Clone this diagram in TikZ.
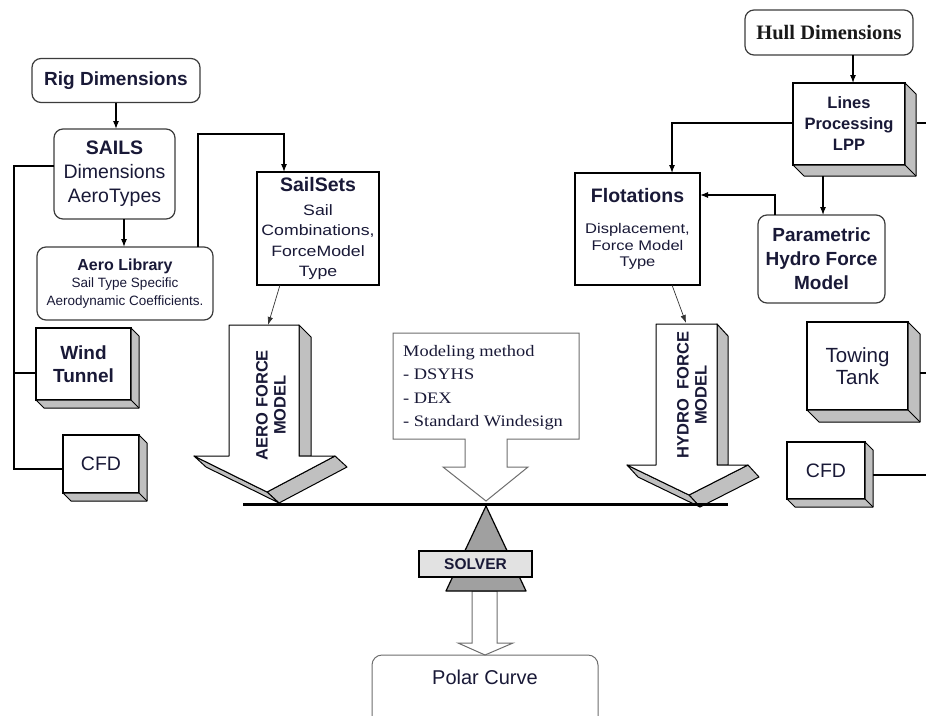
\documentclass[tikz,border=0pt]{standalone}
\usepackage{fontspec}
\setmainfont{Liberation Sans}
\newfontfamily\wsf[FakeStretch=1.18]{Liberation Sans}
\newfontfamily\tms{Liberation Serif}
\newfontfamily\wtms[FakeStretch=1.15]{Liberation Serif}
\usetikzlibrary{arrows.meta,calc}
\definecolor{txt}{RGB}{25,25,55}
\definecolor{sidegray}{RGB}{192,192,192}
\definecolor{trigray}{RGB}{160,160,160}
\definecolor{solvgray}{RGB}{226,226,226}
\definecolor{edge}{RGB}{60,60,60}
\definecolor{lgedge}{RGB}{110,110,110}
\newcommand{\fsz}[2]{\fontsize{#1}{#2}\selectfont}
\tikzset{
  rbox/.style={draw=edge, line width=1.2pt, rounded corners=9pt, fill=white, inner sep=0pt, outer sep=0pt, align=center, text=txt},
  sbox/.style={draw=black, line width=1.2pt, fill=white, inner sep=0pt, outer sep=0pt, align=center, text=txt},
  extr/.style={draw=black, line width=1pt, fill=sidegray, line join=round},
  conn/.style={draw=black, line width=1.1pt},
  arr/.style={conn, -{Latex[length=8pt,width=6pt]}},
  thinarr/.style={draw=black!80, line width=0.7pt, -{Latex[length=8pt,width=5.5pt]}},
  hollow/.style={draw=lgedge, line width=1pt, fill=white, line join=miter},
  front/.style={draw=black, line width=1pt, fill=white, line join=round},
}
\newcommand{\drawext}[2]{%
  \draw[extr] (#1.north east) -- ++(#2,#2) -- ($(#1.south east)+(#2,#2)$) -- ($(#1.south west)+(#2,#2)$) -- (#1.south west) -- (#1.south east) -- cycle;
  \draw[black, line width=0.8pt] (#1.south east) -- ++(#2,#2);}
\begin{document}
\begin{tikzpicture}[x=1pt,y=-1pt]
\fill[white] (0,0) rectangle (926,715);
\useasboundingbox (0,0) rectangle (926,715);

% ---------- left side ----------
\node[rbox, minimum width=168pt, minimum height=44pt, font=\bfseries\fsz{19}{23}] (rig) at (116,80.5) {Rig Dimensions};
\node[rbox, minimum width=121pt, minimum height=90pt, font=\fsz{19.5}{24}] (sails) at (114.5,174) {{\bfseries SAILS}\\Dimensions\\AeroTypes};
\node[rbox, minimum width=176pt, minimum height=73pt, font=\fsz{13.5}{17.5}] (aerolib) at (125,283.5) {{\bfseries\fsz{16}{17.5}Aero Library}\\Sail Type Specific\\Aerodynamic Coefficients.};
\node[sbox, minimum width=122pt, minimum height=113pt, font=\wsf\fsz{15}{20.5}] (sailsets) at (318,228.5) {{\rmfamily\bfseries\fsz{19.5}{20.5}SailSets}\\[3.5pt]Sail\\Combinations,\\ForceModel\\Type};

\node[sbox, minimum width=95pt, minimum height=72pt, font=\bfseries\fsz{19}{23}] (wind) at (83.5,364) {Wind\\Tunnel};
\drawext{wind}{8}
\node[sbox, minimum width=76pt, minimum height=58pt, font=\fsz{19.5}{23}] (cfdl) at (101,464) {CFD};
\drawext{cfdl}{8}

% ---------- right side ----------
\node[rbox, minimum width=168pt, minimum height=45pt, font=\tms\bfseries\fsz{20.5}{24}, text=black!90] (hull) at (829,32.5) {Hull Dimensions};
\node[sbox, minimum width=112pt, minimum height=82pt, font=\bfseries\fsz{16.5}{21}] (lines) at (849,124) {Lines\\Processing\\LPP};
\drawext{lines}{11}
\node[sbox, minimum width=125pt, minimum height=112pt, font=\wsf\fsz{14}{16.5}] (flot) at (637.5,229) {{\rmfamily\bfseries\fsz{19.5}{16.5}Flotations}\\[15pt]Displacement,\\Force Model\\Type};
\node[rbox, minimum width=127pt, minimum height=88pt, font=\bfseries\fsz{19}{24}] (param) at (821.5,259) {Parametric\\Hydro Force\\Model};
\node[sbox, minimum width=101pt, minimum height=88pt, font=\fsz{20.5}{22}] (towing) at (857.5,366) {Towing\\Tank};
\drawext{towing}{12}
\node[sbox, minimum width=78pt, minimum height=57pt, font=\fsz{19.5}{23}] (cfdr) at (826,470.5) {CFD};
\drawext{cfdr}{8}

% ---------- connectors ----------
\draw[arr] (rig.south) -- (rig.south |- sails.north);
\draw[arr] ([xshift=9.5pt]sails.south) -- ([xshift=9.5pt]sails.south |- aerolib.north);
\coordinate (c1) at (198,134);
\coordinate (c2) at (284,134);
\draw[arr] (aerolib.north -| c1) -- (c1) -- (c2) -- (c2 |- sailsets.north);
\coordinate (b1) at (14,166);
\coordinate (b2) at (14,373);
\coordinate (b3) at (14,469);
\draw[conn] (b1 -| sails.west) -- (b1) -- (b3) -- (b3 -| cfdl.west);
\draw[conn] (b2) -- (b2 -| wind.west);

\coordinate (h1) at (853,0);
\draw[arr] (hull.south -| h1) -- (lines.north -| h1);
\coordinate (f1) at (672,123);
\draw[arr] (lines.west |- f1) -- (f1) -- (f1 |- flot.north);
\coordinate (l2) at (823,176);
\draw[arr] (l2) -- (l2 |- param.north);
\coordinate (p1) at (775,195);
\draw[arr] (param.north -| p1) -- (p1) -- (p1 -| flot.east);
\coordinate (r1a) at (917,123);
\coordinate (r1b) at (926,123);
\draw[conn] (r1a) -- (r1b);
\coordinate (r2a) at (920,373);
\coordinate (r2b) at (926,373);
\draw[conn] (r2a) -- (r2b);
\coordinate (r3a) at (873,475);
\coordinate (r3b) at (926,475);
\draw[conn] (r3a) -- (r3b);

% ---------- aero force 3D arrow ----------
\draw[extr] (299,325) -- (311,337) -- (311,456) -- (299,456) -- cycle;
\draw[extr] (267,492) -- (335,456) -- (347,467) -- (279,503) -- cycle;
\draw[extr] (194,456) -- (267,492) -- (279,503) -- (206,467) -- cycle;
\draw[front] (229,325) -- (299,325) -- (299,456) -- (335,456) -- (267,492) -- (194,456) -- (229,456) -- cycle;
\node[rotate=90, align=center, font=\bfseries\fsz{16.5}{18}, text=txt, inner sep=0pt] (aerotxt) at (271,405) {AERO FORCE\\MODEL};
\coordinate (aerotop) at (268,325);
\draw[thinarr] ([xshift=-38pt]sailsets.south) -- (aerotop);

% ---------- hydro force 3D arrow ----------
\draw[extr] (717,324) -- (728,336) -- (728,465) -- (717,465) -- cycle;
\draw[extr] (689,495) -- (748,465) -- (759,477) -- (700,507) -- cycle;
\draw[extr] (627,465) -- (689,495) -- (700,507) -- (638,477) -- cycle;
\draw[front] (656,324) -- (717,324) -- (717,465) -- (748,465) -- (689,495) -- (627,465) -- (656,465) -- cycle;
\node[rotate=90, align=center, font=\bfseries\fsz{16.5}{18}, text=txt, inner sep=0pt] (hydrotxt) at (692,395) {HYDRO\ \ FORCE\\MODEL};
\coordinate (hydrotop) at (686,323);
\draw[thinarr] ([xshift=34.5pt]flot.south) -- (hydrotop);

% ---------- modeling method ----------
\draw[hollow] (393,333) -- (579,333) -- (579,439) -- (507,439) -- (507,467) -- (528,467) -- (486,501) -- (443,467) -- (465,467) -- (465,439) -- (393,439) -- cycle;
\node[anchor=west, align=left, font=\wtms\fsz{16}{23.5}, text=txt, inner sep=0pt] (model) at (403,387.5) {Modeling method\\- DSYHS\\- DEX\\- Standard Windesign};

% ---------- balance ----------
\draw[hollow] (472,591) -- (497,591) -- (497,643) -- (513,643) -- (485,655) -- (458,643) -- (472,643) -- cycle;
\draw[draw=lgedge, line width=1pt, rounded corners=10pt] (372,720) -- (372,655) -- (598,655) -- (598,720);
\node[font=\fsz{20}{24}, text=txt, inner sep=0pt] (polar) at (485,677) {Polar Curve};
\draw[line width=2.6pt] (243,504.5) -- (728,504.5);
\draw[line width=1.2pt, fill=trigray, line join=round] (486,506) -- (526,591) -- (446,591) -- cycle;
\node[draw=black, line width=1.2pt, fill=solvgray, minimum width=113pt, minimum height=26pt, inner sep=0pt, font=\bfseries\fsz{15.5}{18}, text=txt] (solver) at (475.5,564) {SOLVER};
\end{tikzpicture}
\end{document}
